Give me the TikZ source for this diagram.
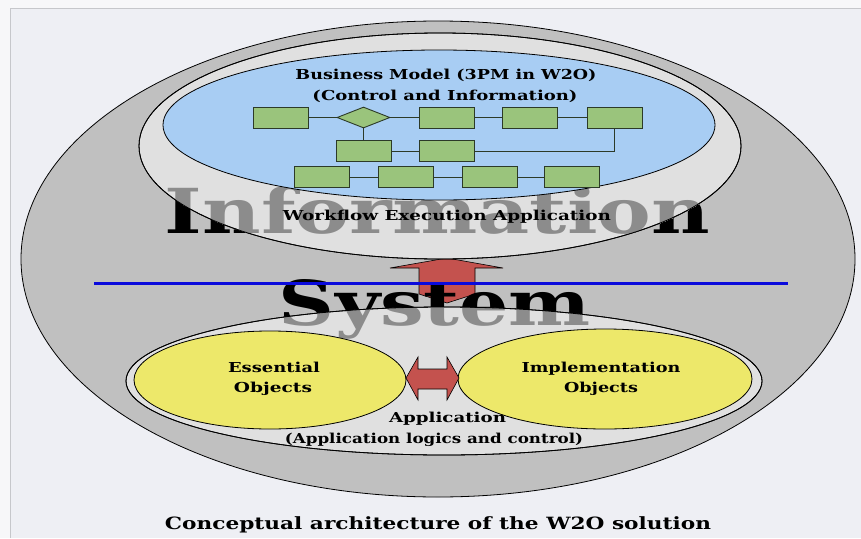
\documentclass[tikz,border=0pt]{standalone}
\usepackage{fontspec}
\setmainfont{DejaVu Serif}
\usepackage{graphicx}
\usetikzlibrary{shapes.geometric}
\definecolor{bgmain}{HTML}{EEEFF4}
\definecolor{bglight}{HTML}{F7F7F9}
\definecolor{framegray}{HTML}{C6C7CB}
\definecolor{sysgray}{HTML}{C0C0C0}
\definecolor{lightell}{HTML}{E0E0E0}
\definecolor{txtgray}{HTML}{8C8C8C}
\definecolor{blueell}{HTML}{A8CDF3}
\definecolor{boxgreen}{HTML}{9AC47C}
\definecolor{boxedge}{HTML}{2C3A28}
\definecolor{yellell}{HTML}{EDE86A}
\definecolor{arrowred}{HTML}{C4524E}
\definecolor{lineblue}{HTML}{0A0ADC}
\newcommand\fw[2]{\resizebox{#1}{\height}{#2}}
\begin{document}
\begin{tikzpicture}[x=1pt,y=-1pt,
  ell/.style={ellipse, draw=black, line width=0.8pt, inner sep=0pt},
  gbox/.style={rectangle, draw=boxedge, fill=boxgreen, line width=0.9pt, minimum width=55pt, minimum height=21pt, inner sep=0pt},
  conn/.style={draw=boxedge, line width=0.9pt},
  lbl/.style={inner sep=0pt, anchor=base, font=\bfseries\fontsize{13.7}{16}\selectfont},
  bigtxt/.style={inner sep=0pt, anchor=base, font=\bfseries\fontsize{62}{62}\selectfont},
  arrowshape/.style={fill=arrowred, draw=black, line width=0.6pt, line join=miter}
]
\useasboundingbox (0,0) rectangle (861,538);
% page background
\fill[bgmain] (0,0) rectangle (861,538);
\fill[bglight] (0,0) rectangle (861,8.5);
\fill[bglight] (0,8.5) rectangle (10,538);
\draw[framegray, line width=1pt] (10.5,538) -- (10.5,8.5) -- (861,8.5);

% outer information system ellipse
\node[ell, fill=sysgray, minimum width=834pt, minimum height=476pt] (sys) at (438,259) {};

% vertical double arrow
\draw[arrowshape] (447,258) -- (503,268) -- (475,268) -- (475,294) -- (447,303) -- (419,294) -- (419,268) -- (390,268) -- cycle;

% big background words (black part)
\node[bigtxt] (info) at (437.5,233) {\fw{545pt}{Information}};
\node[bigtxt] (syst) at (435,325) {\fw{312pt}{System}};

% light ellipses
\node[ell, fill=lightell, minimum width=602pt, minimum height=226pt] (wfa) at (440,146) {};
\node[ell, fill=lightell, minimum width=636pt, minimum height=148pt] (app) at (444,381) {};

% big words seen through the light ellipses (gray part)
\begin{scope}
  \clip (440,146) ellipse [x radius=301pt, y radius=113pt];
  \node[bigtxt, text=txtgray] (infoga) at (437.5,233) {\fw{545pt}{Information}};
  \node[bigtxt, text=txtgray] (systga) at (435,325) {\fw{312pt}{System}};
\end{scope}
\begin{scope}
  \clip (444,381) ellipse [x radius=318pt, y radius=74pt];
  \node[bigtxt, text=txtgray] (infogb) at (437.5,233) {\fw{545pt}{Information}};
  \node[bigtxt, text=txtgray] (systgb) at (435,325) {\fw{312pt}{System}};
\end{scope}
\draw[line width=0.8pt] (440,146) ellipse [x radius=301pt, y radius=113pt];
\draw[line width=0.8pt] (444,381) ellipse [x radius=318pt, y radius=74pt];

% business model ellipse
\node[ell, fill=blueell, minimum width=552pt, minimum height=150pt] (bm) at (439,125) {};
\node[lbl] (bmt1) at (446,79.5) {\fw{301pt}{Business Model (3PM in W2O)}};
\node[lbl] (bmt2) at (445,100.5) {\fw{265pt}{(Control and Information)}};

% process model
\node[gbox] (ba) at (281,117.5) {};
\node[diamond, aspect=2.5, draw=boxedge, fill=boxgreen, line width=0.9pt, minimum width=53pt, minimum height=21pt, inner sep=0pt] (dia) at (363.5,117.5) {};
\node[gbox] (bb) at (447,117.5) {};
\node[gbox] (bc) at (530,117.5) {};
\node[gbox] (bd) at (614.5,117.5) {};
\node[gbox] (be) at (363.5,151) {};
\node[gbox] (bf) at (447,151) {};
\node[gbox] (bg) at (322,177) {};
\node[gbox] (bh) at (406,177) {};
\node[gbox] (bi) at (489.5,177) {};
\node[gbox] (bj) at (572,177) {};
\draw[conn] (ba) -- (dia);
\draw[conn] (dia) -- (bb);
\draw[conn] (bb) -- (bc);
\draw[conn] (bc) -- (bd);
\draw[conn] (dia) -- (be);
\draw[conn] (be) -- (bf);
\draw[conn] (bf.east) -| (bd.south);
\draw[conn] (bg) -- (bh);
\draw[conn] (bh) -- (bi);
\draw[conn] (bi) -- (bj);

\node[lbl] (wfat) at (447,220) {\fw{328pt}{Workflow Execution Application}};

% application objects
\node[ell, fill=yellell, minimum width=272pt, minimum height=98pt] (eo) at (270,380) {};
\node[ell, fill=yellell, minimum width=294pt, minimum height=100pt] (io) at (605,379) {};
\node[lbl] (eot1) at (274,372) {\fw{92pt}{Essential}};
\node[lbl] (eot2) at (273,392.5) {\fw{78pt}{Objects}};
\node[lbl] (iot1) at (601,372) {\fw{159pt}{Implementation}};
\node[lbl] (iot2) at (601,392.5) {\fw{74pt}{Objects}};
\node[lbl] (appt1) at (447.5,422.5) {\fw{117pt}{Application}};
\node[lbl] (appt2) at (434,443) {\fw{298pt}{(Application logics and control)}};

% horizontal double arrow
\draw[arrowshape] (406,378) -- (418,357) -- (418,369) -- (447,369) -- (447,357) -- (459,378) -- (447,400) -- (447,389) -- (418,389) -- (418,400) -- cycle;

% blue separator line
\coordinate (bl1) at (94,283.5);
\coordinate (bl2) at (788,283.5);
\draw[lineblue, line width=3pt] (bl1) -- (bl2);

% caption
\node[lbl, font=\bfseries\fontsize{16.9}{19}\selectfont] (cap) at (438,529) {\fw{546pt}{Conceptual architecture of the W2O solution}};
\end{tikzpicture}
\end{document}
